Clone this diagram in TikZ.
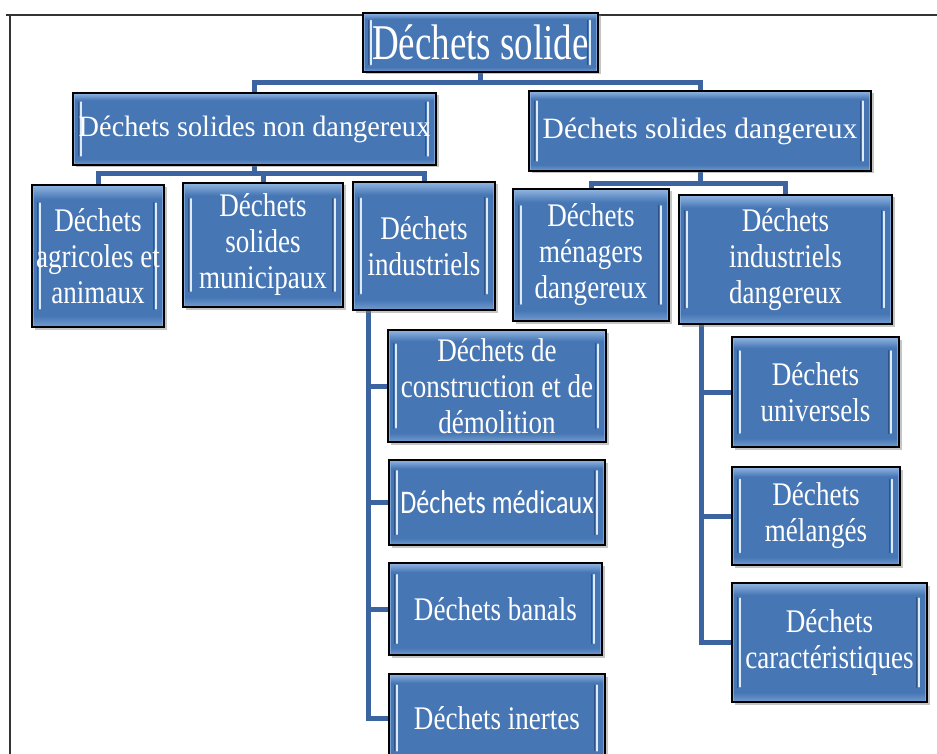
\documentclass[tikz,border=0pt]{standalone}
\usepackage{fontspec}
\setmainfont{Liberation Serif}
\newfontfamily\rootf{Liberation Serif}[FakeStretch=0.74]
\newfontfamily\lonef{Liberation Serif}[FakeStretch=0.96]
\newfontfamily\ltwof{Liberation Serif}[FakeStretch=1.0]
\newfontfamily\boxf{Liberation Serif}[FakeStretch=0.82]
\newfontfamily\calf{Carlito}[FakeStretch=0.79]
\usetikzlibrary{shadows,backgrounds,calc}
\definecolor{boxblue}{RGB}{70,118,180}
\definecolor{boxlight}{RGB}{146,182,226}
\definecolor{boxbot}{RGB}{116,156,208}
\definecolor{hl}{RGB}{222,235,250}
\definecolor{hldark}{RGB}{48,84,136}
\definecolor{connblue}{RGB}{60,100,160}
\pgfdeclareverticalshading{bevelshade}{100bp}{color(0bp)=(boxbot); color(25bp)=(boxbot); color(29bp)=(boxblue); color(70bp)=(boxblue); color(75bp)=(boxlight); color(100bp)=(boxlight)}
\tikzset{
  wbox/.style={draw=black, line width=1.6pt, inner sep=0pt, align=center, text=white,
    shade, shading=bevelshade,
    drop shadow={shadow xshift=2.5pt, shadow yshift=-2.5pt, opacity=0.45},
    font=\boxf\fontsize{33}{36}\selectfont,
    path picture={
      \draw[boxlight, line width=4pt, opacity=0.7] (path picture bounding box.north west) -- (path picture bounding box.south west);
      \draw[boxlight, line width=4pt, opacity=0.7] (path picture bounding box.north east) -- (path picture bounding box.south east);
      \draw[hldark, line width=1.3pt] ($(path picture bounding box.north west)!0.12!(path picture bounding box.south west)+(5.5,0)$) -- ($(path picture bounding box.north west)!0.88!(path picture bounding box.south west)+(5.5,0)$);
      \draw[hl, line width=2.4pt, line cap=round] ($(path picture bounding box.north west)!0.13!(path picture bounding box.south west)+(8,0)$) -- ($(path picture bounding box.north west)!0.87!(path picture bounding box.south west)+(8,0)$);
      \draw[hldark, line width=1.3pt] ($(path picture bounding box.north east)!0.12!(path picture bounding box.south east)+(-10.5,0)$) -- ($(path picture bounding box.north east)!0.88!(path picture bounding box.south east)+(-10.5,0)$);
      \draw[hl, line width=2.4pt, line cap=round] ($(path picture bounding box.north east)!0.13!(path picture bounding box.south east)+(-8,0)$) -- ($(path picture bounding box.north east)!0.87!(path picture bounding box.south east)+(-8,0)$);
    }},
  rootbox/.style={wbox, font=\rootf\fontsize{50}{54}\selectfont},
  onebox/.style={wbox, font=\lonef\fontsize{29.5}{33}\selectfont},
  twobox/.style={wbox, font=\ltwof\fontsize{29.5}{33}\selectfont},
  conn/.style={draw=connblue, line width=5pt},
  framel/.style={draw=black!80, line width=2.2pt},
}
\begin{document}
\begin{tikzpicture}[x=1pt,y=-1pt]
\useasboundingbox (0,0) rectangle (937,754);
\clip (0,0) rectangle (937,754);
% nodes
\node[rootbox, minimum width=235, minimum height=59] (root) at (480.5,42.5) {Déchets solide};
\node[onebox, minimum width=363, minimum height=72] (nd) at (254.5,129) {Déchets solides non dangereux};
\node[twobox, minimum width=342, minimum height=80] (d) at (700,131) {Déchets solides dangereux};
\node[wbox, minimum width=132, minimum height=142] (agr) at (98,256) {Déchets\\agricoles et\\animaux};
\node[wbox, minimum width=160, minimum height=124] (mun) at (263,245) {Déchets\\solides\\municipaux};
\node[wbox, minimum width=142, minimum height=128] (ind) at (424,246) {Déchets\\industriels};
\node[wbox, minimum width=156, minimum height=132] (men) at (591,255) {Déchets\\ménagers\\dangereux};
\node[wbox, minimum width=213, minimum height=129] (indd) at (785.5,259.5) {Déchets\\industriels\\dangereux};
\node[wbox, minimum width=218, minimum height=112] (cons) at (497,386) {Déchets de\\construction et de\\démolition};
\node[wbox, minimum width=216, minimum height=85, font=\calf\fontsize{33}{36}\selectfont] (med) at (497,502.5) {Déchets médicaux};
\node[wbox, minimum width=213, minimum height=92] (ban) at (495.5,609) {Déchets banals};
\node[wbox, minimum width=216, minimum height=88] (ine) at (497,718) {Déchets inertes};
\node[wbox, minimum width=167, minimum height=110] (univ) at (815.5,392) {Déchets\\universels};
\node[wbox, minimum width=168, minimum height=98] (mel) at (816,516) {Déchets\\mélangés};
\node[wbox, minimum width=195, minimum height=119] (car) at (829.5,642.5) {Déchets\\caractéristiques};
\begin{pgfonlayer}{background}
\fill[white] (0,0) rectangle (937,754);
\draw[framel] (6,15) -- (937,15);
\draw[framel, line width=2pt] (10,15) -- (10,754);
% connectors
\draw[conn] (root.south) -- ++(0,10) -| (nd.north);
\draw[conn] (root.south) -- ++(0,10) -| (d.north);
\draw[conn] (nd.south) -- ++(0,8) -| (agr.north);
\draw[conn] (nd.south) -- ++(0,8) -| (mun.north);
\draw[conn] (nd.south) -- ++(0,8) -| (ind.north);
\draw[conn] (d.south) -- ++(0,12) -| (men.north);
\draw[conn] (d.south) -- ++(0,12) -| (indd.north);
\draw[conn] ([xshift=16pt]ind.south west) |- (cons.west);
\draw[conn] ([xshift=16pt]ind.south west) |- (med.west);
\draw[conn] ([xshift=16pt]ind.south west) |- (ban.west);
\draw[conn] ([xshift=16pt]ind.south west) |- (ine.west);
\draw[conn] ([xshift=23pt]indd.south west) |- (univ.west);
\draw[conn] ([xshift=23pt]indd.south west) |- (mel.west);
\draw[conn] ([xshift=23pt]indd.south west) |- (car.west);
\end{pgfonlayer}
\end{tikzpicture}
\end{document}
